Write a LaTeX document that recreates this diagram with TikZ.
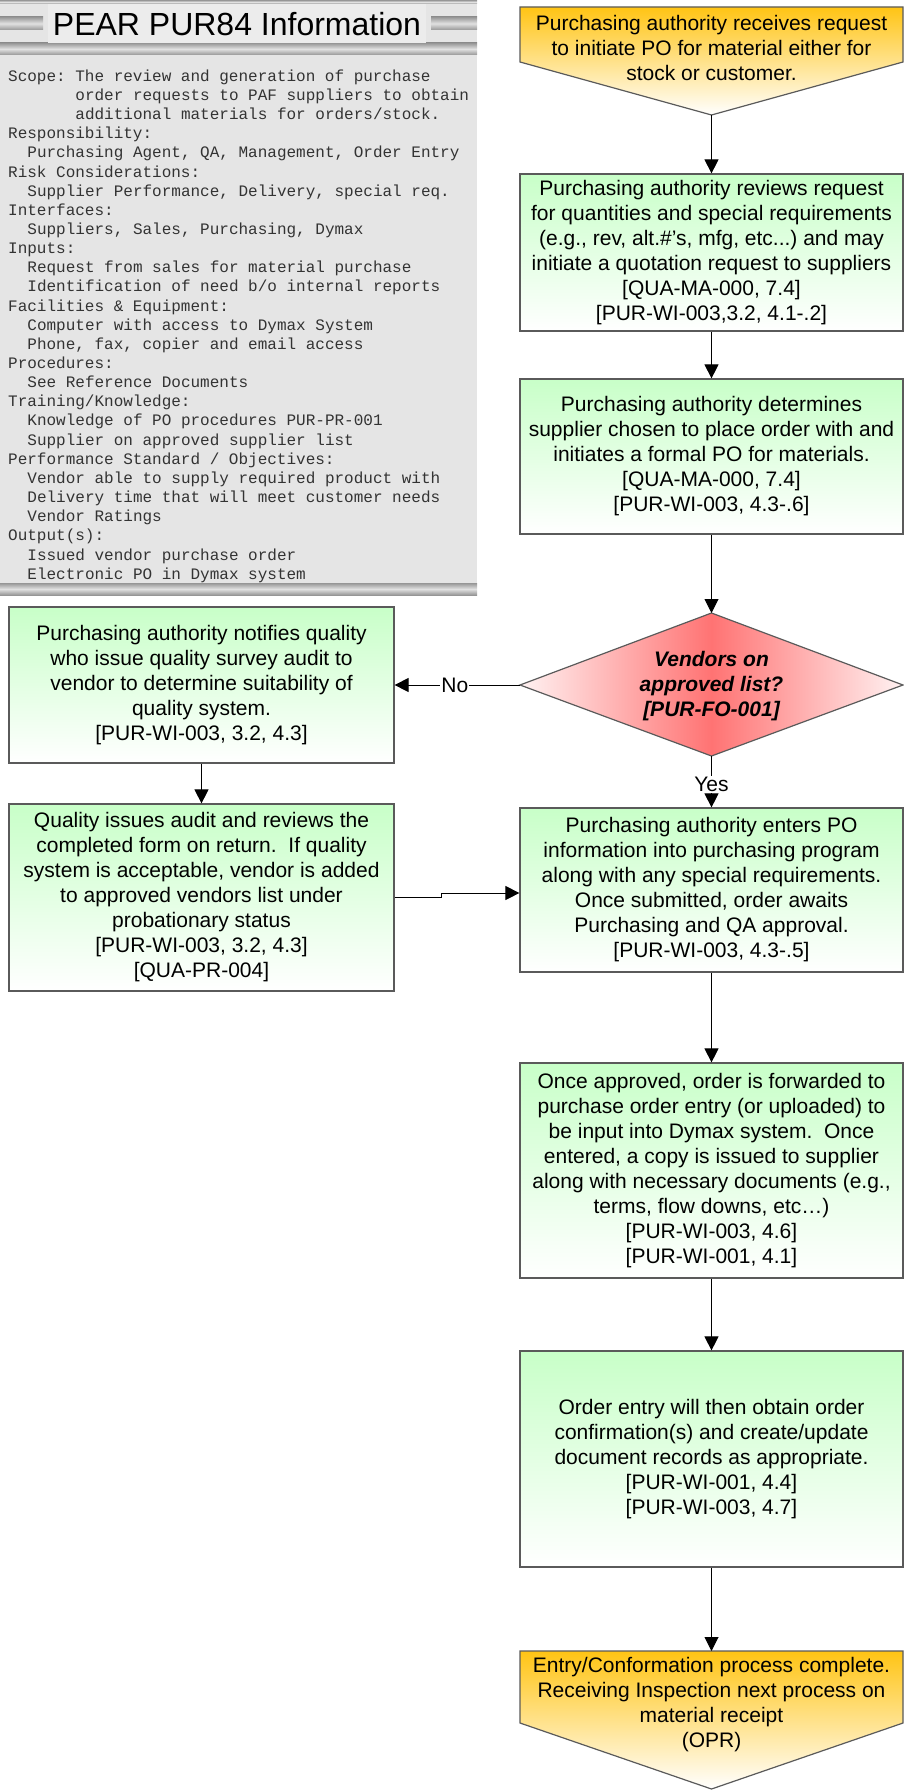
\documentclass[tikz,border=0pt]{standalone}
\usepackage{fontspec}
\setmainfont{Liberation Sans}
\newfontfamily\monofont{Liberation Mono}
\usetikzlibrary{arrows.meta}
\definecolor{panelbg}{RGB}{229,229,229}
\definecolor{titlebg}{RGB}{236,236,236}
\definecolor{stripedark}{RGB}{150,150,150}
\definecolor{stripelight}{RGB}{225,225,225}
\definecolor{greentop}{RGB}{200,255,200}
\definecolor{orangetop}{RGB}{255,196,20}
\definecolor{redmid}{RGB}{255,115,115}
\definecolor{redside}{RGB}{255,242,242}
\definecolor{boxline}{RGB}{90,90,90}
\tikzset{
  gbox/.style={draw=boxline, line width=1.2pt, top color=greentop, bottom color=white,
    minimum width=383pt, align=center, inner sep=2pt,
    font=\fontsize{21}{25}\selectfont},
  obox/.style={draw=boxline, line width=1.2pt, top color=orangetop, bottom color=white},
  stripe/.style={top color=stripedark, bottom color=stripedark, middle color=stripelight},
  arr/.style={draw=black, line width=0.9pt, -{Triangle[length=14pt,width=14pt]}},
  lbl/.style={fill=white, inner sep=1pt, font=\fontsize{21}{25}\selectfont},
  ptext/.style={align=center, font=\fontsize{21}{25}\selectfont},
}
\begin{document}
\begin{tikzpicture}[x=1pt,y=-1pt]
\useasboundingbox (0,0) rectangle (904,1790);
\frenchspacing
% ---------- info panel ----------
\fill[panelbg] (0,0) rectangle (477,595);
\shade[stripe] (0,0) rectangle (477,4);
\shade[stripe] (0,43) rectangle (477,55);
\shade[stripe] (0,17) rectangle (43,30);
\shade[stripe] (431,17) rectangle (477,30);
\fill[titlebg] (48,4) rectangle (426,43);
\node[font=\fontsize{32}{36}\selectfont, inner sep=0] (title) at (237,24) {PEAR PUR84 Information};
\shade[stripe] (0,583) rectangle (477,595);
\node[anchor=north west, inner sep=0, align=left, text=black!80,
      font=\monofont\fontsize{16}{19.15}\selectfont] (info) at (8,69.5) {%
Scope: The review and generation of purchase\\
~~~~~~~order requests to PAF suppliers to obtain\\
~~~~~~~additional materials for orders/stock.\\
Responsibility:\\
~~Purchasing Agent, QA, Management, Order Entry\\
Risk Considerations:\\
~~Supplier Performance, Delivery, special req.\\
Interfaces:\\
~~Suppliers, Sales, Purchasing, Dymax\\
Inputs:\\
~~Request from sales for material purchase\\
~~Identification of need b/o internal reports\\
Facilities \& Equipment:\\
~~Computer with access to Dymax System\\
~~Phone, fax, copier and email access\\
Procedures:\\
~~See Reference Documents\\
Training/Knowledge:\\
~~Knowledge of PO procedures PUR-PR-001\\
~~Supplier on approved supplier list\\
Performance Standard / Objectives:\\
~~Vendor able to supply required product with\\
~~Delivery time that will meet customer needs\\
~~Vendor Ratings\\
Output(s):\\
~~Issued vendor purchase order\\
~~Electronic PO in Dymax system};
% ---------- start pentagon ----------
\coordinate (s1) at (520,7);
\coordinate (s2) at (903,7);
\coordinate (s3) at (903,62);
\coordinate (stip) at (711.5,115);
\coordinate (s5) at (520,62);
\path[obox] (s1) -- (s2) -- (s3) -- (stip) -- (s5) -- cycle;
\node[ptext] (start) at (711.5,47.5) {Purchasing authority receives request\\to initiate PO for material either for\\stock or customer.};
% ---------- right column boxes ----------
\node[gbox, minimum height=157pt] (b2) at (711.5,252.5) {Purchasing authority reviews request\\for quantities and special requirements\\(e.g., rev, alt.\#'s, mfg, etc...) and may\\initiate a quotation request to suppliers\\{[QUA-MA-000, 7.4]}\\{[PUR-WI-003,3.2, 4.1-.2]}};
\node[gbox, minimum height=155pt] (b3) at (711.5,456.5) {Purchasing authority determines\\supplier chosen to place order with and\\initiates a formal PO for materials.\\{[QUA-MA-000, 7.4]}\\{[PUR-WI-003, 4.3-.6]}};
% diamond
\coordinate (dl) at (520,685);
\coordinate (dt) at (711.5,613);
\coordinate (dr) at (903,685);
\coordinate (db) at (711.5,756);
\path[draw=boxline, line width=1.2pt, left color=redside, right color=redside, middle color=redmid]
  (dl) -- (dt) -- (dr) -- (db) -- cycle;
\node[ptext, font=\fontsize{21}{25}\selectfont\bfseries\itshape] (dec) at (711.5,686) {Vendors on\\approved list?\\{[PUR-FO-001]}};
\node[gbox, minimum height=164pt] (b4) at (711.5,890) {Purchasing authority enters PO\\information into purchasing program\\along with any special requirements.\\Once submitted, order awaits\\Purchasing and QA approval.\\{[PUR-WI-003, 4.3-.5]}};
\node[gbox, minimum height=215pt] (b5) at (711.5,1170.5) {Once approved, order is forwarded to\\purchase order entry (or uploaded) to\\be input into Dymax system.~ Once\\entered, a copy is issued to supplier\\along with necessary documents (e.g.,\\terms, flow downs, etc…)\\{[PUR-WI-003, 4.6]}\\{[PUR-WI-001, 4.1]}};
\node[gbox, minimum height=216pt] (b6) at (711.5,1459) {Order entry will then obtain order\\confirmation(s) and create/update\\document records as appropriate.\\{[PUR-WI-001, 4.4]}\\{[PUR-WI-003, 4.7]}};
% ---------- end pentagon ----------
\coordinate (e1) at (520,1651);
\coordinate (e2) at (903,1651);
\coordinate (e3) at (903,1723);
\coordinate (etip) at (711.5,1789);
\coordinate (e5) at (520,1723);
\coordinate (etop) at (711.5,1651);
\path[obox] (e1) -- (e2) -- (e3) -- (etip) -- (e5) -- cycle;
\node[ptext] (end) at (711.5,1704.5) {Entry/Conformation process complete.\\Receiving Inspection next process on\\material receipt\\(OPR)};
% ---------- left boxes ----------
\node[gbox, minimum width=385pt, minimum height=156pt] (l1) at (201.5,685) {Purchasing authority notifies quality\\who issue quality survey audit to\\vendor to determine suitability of\\quality system.\\{[PUR-WI-003, 3.2, 4.3]}};
\node[gbox, minimum width=385pt, minimum height=187pt] (l2) at (201.5,897.5) {Quality issues audit and reviews the\\completed form on return.~ If quality\\system is acceptable, vendor is added\\to approved vendors list under\\probationary status\\{[PUR-WI-003, 3.2, 4.3]}\\{[QUA-PR-004]}};
% ---------- connectors ----------
\draw[arr] (stip) -- (b2.north);
\draw[arr] (b2.south) -- (b3.north);
\draw[arr] (b3.south) -- (dt);
\draw[arr] (dl) -- node[lbl, pos=0.52] {No} (l1.east);
\draw[arr] (db) -- node[lbl, pos=0.55] {Yes} (b4.north);
\draw[arr] (l1.south) -- (l2.north);
\coordinate (jx) at (441,897.5);
\coordinate (jy) at (441,893);
\draw[arr] (l2.east) -- (jx) -- (jy) -- (jy -| b4.west);
\draw[arr] (b4.south) -- (b5.north);
\draw[arr] (b5.south) -- (b6.north);
\draw[arr] (b6.south) -- (etop);
\end{tikzpicture}
\end{document}
